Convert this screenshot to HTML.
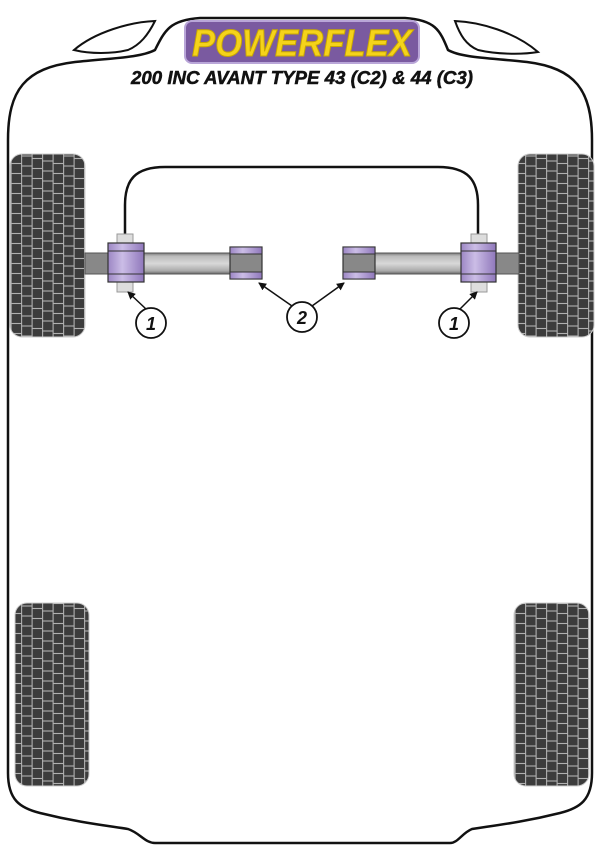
<!DOCTYPE html>
<html><head><meta charset="utf-8"><style>
html,body{margin:0;padding:0;background:#fff;width:600px;height:848px;overflow:hidden}
svg{display:block}
</style></head><body>
<svg width="600" height="848" viewBox="0 0 600 848" xmlns="http://www.w3.org/2000/svg">
<defs>
<pattern id="tread" width="42" height="10" patternUnits="userSpaceOnUse">
<rect width="42" height="10" fill="#3c3c3c"/>
<g stroke="#b0b0b0" stroke-width="1.1" fill="none">
<line x1="0.6" y1="0" x2="0.6" y2="10"/><line x1="11.1" y1="0" x2="11.1" y2="10"/>
<line x1="21.6" y1="0" x2="21.6" y2="10"/><line x1="32.1" y1="0" x2="32.1" y2="10"/>
<line x1="0" y1="1" x2="11" y2="1"/><line x1="11" y1="3.5" x2="21.5" y2="3.5"/>
<line x1="21.5" y1="6" x2="32" y2="6"/><line x1="32" y1="8.5" x2="42" y2="8.5"/>
</g>
</pattern>
<linearGradient id="bar" x1="0" y1="0" x2="0" y2="1">
<stop offset="0" stop-color="#777"/><stop offset="0.15" stop-color="#bbb"/><stop offset="0.5" stop-color="#d8d8d8"/><stop offset="0.85" stop-color="#aaa"/><stop offset="1" stop-color="#666"/>
</linearGradient>
<linearGradient id="bush" x1="0" y1="0" x2="1" y2="0">
<stop offset="0" stop-color="#9c86c4"/><stop offset="0.4" stop-color="#cbbde6"/><stop offset="1" stop-color="#8f77bb"/>
</linearGradient>
<marker id="ah" markerWidth="8" markerHeight="8" refX="7" refY="4" orient="auto" markerUnits="userSpaceOnUse">
<path d="M0,0 L8,4 L0,8 Z" fill="#111"/>
</marker>
</defs>

<path d="M8,330 L8,140 C8,90 25,68 75,62 C110,58 140,58 155,50 C165,30 170,20 200,18 L405,18 C435,20 440,30 448,50 C462,58 492,58 527,62 C575,68 592,90 592,140 L592,773 C592,800 580,808 560,813 C520,823 490,826 472,829 C462,833 458,843 450,843 L155,843 C145,843 140,833 128,829 C110,826 80,823 40,813 C20,808 8,800 8,773 Z" fill="#fff" stroke="#111" stroke-width="2.5"/>
<path d="M74,50 C95,32 130,22 155,21 C148,35 140,45 128,50 C112,54 90,54 74,50 Z" fill="#fff" stroke="#111" stroke-width="2"/>
<path d="M455,21 C480,22 515,32 538,52 C520,55 495,54 478,50 C466,45 460,35 455,21 Z" fill="#fff" stroke="#111" stroke-width="2"/>

<rect x="185" y="21" width="234" height="42" rx="7" fill="#7a5aa0" stroke="#b9a6d8" stroke-width="2"/>
<text x="302" y="56" text-anchor="middle" font-family="Liberation Sans, sans-serif" font-weight="bold" font-style="italic" font-size="38" fill="#f5d31a" stroke="#c9a800" stroke-width="1" textLength="220" lengthAdjust="spacingAndGlyphs">POWERFLEX</text>
<text x="302" y="84" text-anchor="middle" font-family="Liberation Sans, sans-serif" font-weight="bold" font-style="italic" font-size="18" fill="#111" stroke="#111" stroke-width="0.5" textLength="342" lengthAdjust="spacingAndGlyphs">200 INC AVANT TYPE 43 (C2) &amp; 44 (C3)</text>

<rect x="10" y="154" width="75" height="183" rx="12" fill="url(#tread)" stroke="#ccc" stroke-width="1"/>
<rect x="518" y="154" width="76" height="183" rx="12" fill="url(#tread)" stroke="#ccc" stroke-width="1"/>
<rect x="15" y="603" width="74" height="183" rx="12" fill="url(#tread)" stroke="#ccc" stroke-width="1"/>
<rect x="514" y="603" width="75" height="183" rx="12" fill="url(#tread)" stroke="#ccc" stroke-width="1"/>

<path d="M125,234 L125,205 C125,180 135,167 165,167 L438,167 C468,167 478,180 478,205 L478,234" fill="none" stroke="#111" stroke-width="2.5"/>

<rect x="85" y="253" width="177" height="21" fill="url(#bar)" stroke="#555" stroke-width="1"/>
<rect x="343" y="253" width="176" height="21" fill="url(#bar)" stroke="#555" stroke-width="1"/>
<rect x="85" y="253" width="24" height="21" fill="#888" stroke="#555" stroke-width="1"/>
<rect x="495" y="253" width="24" height="21" fill="#888" stroke="#555" stroke-width="1"/>

<rect x="117" y="234" width="16" height="58" fill="#ddd" stroke="#999" stroke-width="1"/>
<rect x="108" y="243" width="36" height="39" fill="url(#bush)" stroke="#333" stroke-width="1.2"/>
<line x1="108" y1="251" x2="144" y2="251" stroke="#333"/><line x1="108" y1="274" x2="144" y2="274" stroke="#333"/>
<rect x="471" y="234" width="16" height="58" fill="#ddd" stroke="#999" stroke-width="1"/>
<rect x="461" y="243" width="35" height="39" fill="url(#bush)" stroke="#333" stroke-width="1.2"/>
<line x1="461" y1="251" x2="496" y2="251" stroke="#333"/><line x1="461" y1="274" x2="496" y2="274" stroke="#333"/>
<rect x="230" y="247" width="32" height="32" fill="#888" stroke="#333" stroke-width="1.2"/>
<rect x="230" y="247" width="32" height="7" fill="url(#bush)" stroke="#333"/>
<rect x="230" y="272" width="32" height="7" fill="url(#bush)" stroke="#333"/>
<rect x="343" y="247" width="32" height="32" fill="#888" stroke="#333" stroke-width="1.2"/>
<rect x="343" y="247" width="32" height="7" fill="url(#bush)" stroke="#333"/>
<rect x="343" y="272" width="32" height="7" fill="url(#bush)" stroke="#333"/>

<g stroke="#111" stroke-width="1.5" fill="none">
<line x1="146" y1="309" x2="128" y2="292" marker-end="url(#ah)"/>
<line x1="292" y1="306" x2="259" y2="283" marker-end="url(#ah)"/>
<line x1="312" y1="306" x2="344" y2="283" marker-end="url(#ah)"/>
<line x1="460" y1="309" x2="477" y2="292" marker-end="url(#ah)"/>
</g>
<g fill="#fff" stroke="#111" stroke-width="1.8">
<circle cx="151" cy="323" r="15"/><circle cx="302" cy="317" r="15"/><circle cx="454" cy="323" r="15"/>
</g>
<g font-family="Liberation Sans, sans-serif" font-weight="bold" font-style="italic" font-size="18" text-anchor="middle" fill="#111">
<text x="151" y="330">1</text><text x="302" y="324">2</text><text x="454" y="330">1</text>
</g>
</svg>
</body></html>
